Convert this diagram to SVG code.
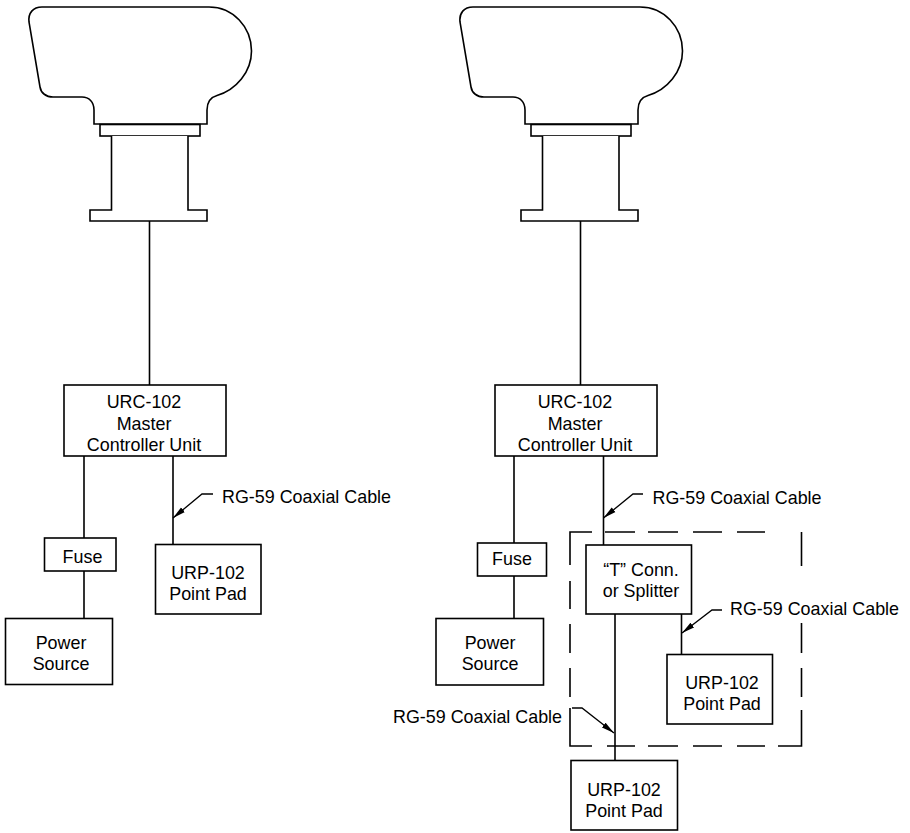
<svg xmlns="http://www.w3.org/2000/svg" width="910" height="833" viewBox="0 0 910 833">
<defs>
<marker id="ah" markerUnits="userSpaceOnUse" markerWidth="14" markerHeight="8" refX="13" refY="4" orient="auto"><path class="h" d="M0 1L13 4L0 7Z"/></marker>
<g id="ant">
<path d="M42 7H209C233 7 251.500 27 251.500 51C251.500 72 236 90 217 95.500C210 97.500 207 102 207 110V124H94V110C94 102 89 97 82 97H53C46 97 41 93 40 87L29 22C28 13 33 7 42 7Z"/>
<rect x="100" y="124.500" width="100" height="11.500"/>
<path d="M111.500 136V210H90V221H207V210H188V136"/>
</g>
</defs>
<style>
rect,path,use{fill:#fff;stroke:#000;stroke-width:1.6}
.w,.d{fill:none}
.d{stroke-width:1.6}
.l{fill:none;stroke-width:1.3;marker-end:url(#ah)}
path.h{fill:#000;stroke:none}
text{font:17.900px "Liberation Sans",Arial,sans-serif;text-anchor:middle;fill:#000}
.s{text-anchor:start}
</style>
<rect x="0" y="0" width="910" height="833" style="fill:#fff;stroke:none"/>
<g id="connectors">
<path class="w" d="M149.500 221V385M84 456V538M84 571V618M173 456V544M580.500 221V385M514 456V543M514 576V618M603.500 456V545M615 614V760M681.500 614V654"/>
<path class="l" d="M213 494H202L173 518"/>
<path class="l" d="M643 494H633L603.500 518"/>
<path class="l" d="M722 610H712L682 633"/>
<path class="l" d="M572 708H582L614 733"/>
</g>
<g id="antenna-left"><use href="#ant"/></g>
<g id="antenna-right"><use href="#ant" x="431"/></g>
<g id="controller-left"><rect x="64" y="385" width="162" height="71"/><text x="144" y="408">URC-102</text><text x="144" y="430">Master</text><text x="144" y="451">Controller Unit</text></g>
<g id="fuse-left"><rect x="44.500" y="538" width="71.500" height="33"/><text x="82.500" y="562.500">Fuse</text></g>
<g id="power-left"><rect x="5.500" y="618.500" width="107" height="66"/><text x="61" y="649">Power</text><text x="61" y="670">Source</text></g>
<g id="pad-left"><rect x="155.500" y="544.500" width="105.500" height="69.500"/><text x="208" y="579">URP-102</text><text x="208" y="600">Point Pad</text></g>
<g id="controller-right"><rect x="495" y="385" width="162" height="71"/><text x="575" y="408">URC-102</text><text x="575" y="430">Master</text><text x="575" y="451">Controller Unit</text></g>
<g id="fuse-right"><rect x="477.500" y="543" width="69" height="33"/><text x="512" y="565">Fuse</text></g>
<g id="power-right"><rect x="436" y="618.500" width="107.500" height="66.500"/><text x="490" y="649">Power</text><text x="490" y="670">Source</text></g>
<g id="splitter"><rect x="586" y="545" width="105.500" height="69"/><text x="641" y="576">“T” Conn.</text><text x="641" y="597">or Splitter</text></g>
<g id="pad-right-a"><rect x="667" y="654.500" width="105.500" height="69.500"/><text x="722" y="688.500">URP-102</text><text x="722" y="710">Point Pad</text></g>
<g id="pad-right-b"><rect x="571" y="760.500" width="106.500" height="69.500"/><text x="624" y="795.500">URP-102</text><text x="624" y="816.500">Point Pad</text></g>
<g id="dashed-box"><path class="d" d="M592 532H570V565M570 581V609M570 624V653M570 668V697M570 708V746H592M607 746H635M648 746H678M693 746H722M737 746H765M778 746H801.500V710M801.500 697V668M801.500 653V623M801.500 566V532M605 532H635M648 532H678M693 532H722M737 532H765"/></g>
<g id="labels"><text class="s" x="222" y="503">RG-59 Coaxial Cable</text><text class="s" x="652.500" y="504">RG-59 Coaxial Cable</text><text class="s" x="730" y="615">RG-59 Coaxial Cable</text><text class="s" x="393" y="722.500">RG-59 Coaxial Cable</text></g>
</svg>
